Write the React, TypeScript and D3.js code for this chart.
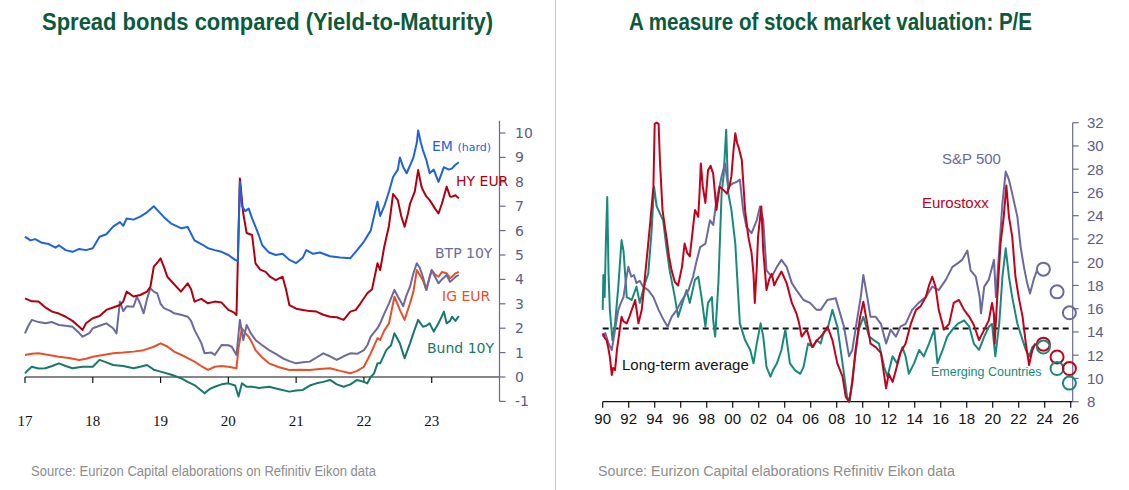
import React from "react";
import * as d3 from "d3";

type P = [number, number];

// ---------- Left chart data (year, yield %) ----------
const leftYearTicks = [2017, 2018, 2019, 2020, 2021, 2022, 2023];
const leftYearLabels = ["17", "18", "19", "20", "21", "22", "23"];
const leftValueTicks = [-1, 0, 1, 2, 3, 4, 5, 6, 7, 8, 9, 10];

const emHard: P[] = [[2017.0,5.75],[2017.08,5.6],[2017.15,5.65],[2017.25,5.5],[2017.35,5.45],[2017.45,5.3],[2017.5,5.4],[2017.6,5.2],[2017.7,5.13],[2017.8,5.25],[2017.9,5.2],[2018.0,5.28],[2018.1,5.75],[2018.2,5.85],[2018.3,6.16],[2018.4,6.35],[2018.45,6.2],[2018.5,6.5],[2018.6,6.45],[2018.7,6.57],[2018.8,6.75],[2018.9,7.0],[2018.95,6.85],[2019.05,6.55],[2019.15,6.3],[2019.3,6.1],[2019.4,6.15],[2019.5,5.6],[2019.6,5.45],[2019.7,5.28],[2019.8,5.2],[2019.9,5.13],[2020.0,5.0],[2020.1,4.8],[2020.14,4.75],[2020.17,8.0],[2020.2,7.0],[2020.25,6.8],[2020.3,6.9],[2020.35,6.5],[2020.4,6.16],[2020.45,5.8],[2020.5,5.4],[2020.6,5.1],[2020.7,5.0],[2020.8,5.05],[2020.9,4.8],[2021.0,4.67],[2021.1,4.9],[2021.15,5.2],[2021.25,5.05],[2021.35,5.1],[2021.5,4.95],[2021.65,4.9],[2021.8,4.87],[2021.9,5.2],[2022.0,5.55],[2022.1,6.0],[2022.15,6.6],[2022.2,7.18],[2022.24,6.6],[2022.3,7.0],[2022.37,7.6],[2022.43,8.2],[2022.5,8.5],[2022.53,9.0],[2022.58,8.6],[2022.63,8.35],[2022.7,8.8],[2022.73,9.0],[2022.78,9.6],[2022.8,10.1],[2022.84,9.6],[2022.87,9.3],[2022.92,8.9],[2022.97,8.35],[2023.03,8.5],[2023.1,8.0],[2023.18,8.6],[2023.25,8.5],[2023.3,8.55],[2023.35,8.7],[2023.4,8.8]];

const hyEur: P[] = [[2017.0,3.22],[2017.1,3.1],[2017.2,3.09],[2017.3,2.85],[2017.4,2.68],[2017.5,2.6],[2017.6,2.47],[2017.7,2.3],[2017.8,2.06],[2017.85,1.93],[2017.9,2.2],[2018.0,2.41],[2018.1,2.5],[2018.2,2.75],[2018.3,2.85],[2018.4,2.95],[2018.45,3.1],[2018.5,3.5],[2018.6,3.3],[2018.7,3.36],[2018.8,3.5],[2018.85,3.7],[2018.9,4.52],[2018.97,4.75],[2019.0,4.86],[2019.05,4.5],[2019.1,4.11],[2019.2,3.8],[2019.3,3.5],[2019.4,3.84],[2019.45,3.6],[2019.5,3.09],[2019.6,3.2],[2019.7,3.02],[2019.8,3.09],[2019.9,3.05],[2020.0,2.75],[2020.08,2.65],[2020.12,2.54],[2020.17,8.14],[2020.22,6.7],[2020.27,5.9],[2020.35,5.82],[2020.4,4.66],[2020.47,4.4],[2020.55,4.31],[2020.62,4.1],[2020.7,3.97],[2020.8,4.11],[2020.85,3.6],[2020.9,2.95],[2021.0,2.8],[2021.1,2.75],[2021.2,2.7],[2021.3,2.68],[2021.4,2.55],[2021.5,2.47],[2021.6,2.45],[2021.7,2.34],[2021.8,2.68],[2021.88,2.75],[2021.95,3.02],[2022.05,3.43],[2022.12,3.6],[2022.2,4.66],[2022.24,4.38],[2022.3,5.34],[2022.37,6.2],[2022.43,7.5],[2022.5,7.25],[2022.55,6.6],[2022.6,6.16],[2022.65,6.7],[2022.68,7.1],[2022.75,7.6],[2022.8,8.48],[2022.85,7.8],[2022.87,7.66],[2022.92,7.4],[2022.97,7.25],[2023.05,6.9],[2023.1,6.7],[2023.15,7.1],[2023.22,7.8],[2023.27,7.4],[2023.3,7.39],[2023.35,7.45],[2023.4,7.32]];

const btp10y: P[] = [[2017.0,1.79],[2017.05,2.1],[2017.1,2.34],[2017.2,2.25],[2017.3,2.2],[2017.4,2.25],[2017.5,2.13],[2017.6,2.1],[2017.7,2.06],[2017.8,1.8],[2017.85,1.65],[2017.95,1.8],[2018.0,2.0],[2018.1,2.1],[2018.2,2.2],[2018.3,2.0],[2018.35,1.79],[2018.4,3.09],[2018.45,2.7],[2018.5,2.9],[2018.6,2.88],[2018.65,3.29],[2018.7,3.0],[2018.75,2.61],[2018.8,3.2],[2018.85,3.64],[2018.9,3.5],[2018.95,3.43],[2019.0,3.0],[2019.05,2.82],[2019.15,2.7],[2019.2,2.61],[2019.3,2.55],[2019.4,2.47],[2019.45,2.3],[2019.5,1.93],[2019.6,1.4],[2019.65,0.97],[2019.75,1.0],[2019.8,0.9],[2019.9,1.31],[2020.0,1.3],[2020.05,1.24],[2020.12,0.9],[2020.17,2.34],[2020.22,1.52],[2020.27,2.13],[2020.33,1.8],[2020.4,1.52],[2020.5,1.3],[2020.6,1.1],[2020.7,0.95],[2020.8,0.77],[2020.9,0.65],[2021.0,0.56],[2021.1,0.6],[2021.2,0.63],[2021.3,0.8],[2021.4,0.97],[2021.5,0.85],[2021.6,0.7],[2021.7,0.85],[2021.8,0.97],[2021.9,0.95],[2022.0,1.1],[2022.05,1.3],[2022.1,1.65],[2022.2,2.0],[2022.24,2.2],[2022.3,2.6],[2022.37,3.02],[2022.45,3.57],[2022.5,3.3],[2022.53,3.16],[2022.58,2.9],[2022.62,3.29],[2022.68,3.7],[2022.73,4.25],[2022.78,4.66],[2022.82,4.5],[2022.87,4.11],[2022.92,3.57],[2022.96,4.0],[2023.0,4.38],[2023.05,4.1],[2023.1,3.84],[2023.15,4.0],[2023.22,4.18],[2023.27,3.9],[2023.3,3.97],[2023.35,4.1],[2023.4,4.18]];

const igEur: P[] = [[2017.0,0.9],[2017.1,0.95],[2017.2,0.97],[2017.35,0.9],[2017.5,0.83],[2017.65,0.78],[2017.8,0.7],[2017.9,0.75],[2018.0,0.83],[2018.15,0.9],[2018.3,0.97],[2018.45,1.0],[2018.6,1.04],[2018.75,1.1],[2018.9,1.24],[2019.0,1.38],[2019.1,1.25],[2019.2,1.04],[2019.35,0.85],[2019.5,0.63],[2019.6,0.45],[2019.7,0.29],[2019.8,0.42],[2019.9,0.45],[2020.0,0.42],[2020.12,0.36],[2020.15,1.2],[2020.2,2.0],[2020.25,1.8],[2020.3,1.65],[2020.35,1.4],[2020.4,1.1],[2020.5,0.8],[2020.6,0.56],[2020.75,0.4],[2020.9,0.29],[2021.05,0.3],[2021.2,0.29],[2021.35,0.33],[2021.5,0.36],[2021.65,0.25],[2021.8,0.15],[2021.9,0.25],[2022.0,0.42],[2022.1,0.97],[2022.2,1.59],[2022.24,1.52],[2022.3,1.9],[2022.37,2.2],[2022.45,3.29],[2022.53,2.75],[2022.6,2.34],[2022.68,3.02],[2022.73,3.5],[2022.78,4.38],[2022.82,4.2],[2022.87,3.97],[2022.92,3.57],[2022.97,4.1],[2023.0,4.38],[2023.05,4.2],[2023.1,4.11],[2023.15,4.3],[2023.22,4.25],[2023.27,4.05],[2023.3,4.11],[2023.35,4.25],[2023.4,4.31]];

const bund10y: P[] = [[2017.0,0.15],[2017.05,0.3],[2017.1,0.42],[2017.2,0.35],[2017.3,0.36],[2017.4,0.45],[2017.5,0.56],[2017.6,0.45],[2017.7,0.36],[2017.85,0.42],[2018.0,0.42],[2018.1,0.7],[2018.2,0.6],[2018.3,0.49],[2018.45,0.45],[2018.6,0.36],[2018.7,0.42],[2018.8,0.49],[2018.9,0.3],[2019.0,0.22],[2019.15,0.1],[2019.3,-0.05],[2019.4,-0.2],[2019.5,-0.33],[2019.6,-0.55],[2019.65,-0.67],[2019.72,-0.5],[2019.8,-0.4],[2019.9,-0.3],[2020.0,-0.26],[2020.1,-0.35],[2020.15,-0.8],[2020.2,-0.26],[2020.27,-0.4],[2020.35,-0.4],[2020.45,-0.45],[2020.6,-0.4],[2020.75,-0.5],[2020.9,-0.6],[2021.0,-0.55],[2021.1,-0.53],[2021.2,-0.35],[2021.3,-0.26],[2021.4,-0.2],[2021.5,-0.12],[2021.6,-0.3],[2021.7,-0.4],[2021.8,-0.3],[2021.9,-0.12],[2022.0,-0.2],[2022.05,-0.26],[2022.1,0.0],[2022.15,0.15],[2022.2,0.56],[2022.24,0.56],[2022.33,1.1],[2022.4,1.3],[2022.45,1.79],[2022.53,1.38],[2022.6,0.77],[2022.68,1.38],[2022.73,1.8],[2022.8,2.34],[2022.87,2.06],[2022.92,2.1],[2022.97,2.2],[2023.03,1.86],[2023.1,2.2],[2023.18,2.68],[2023.22,2.2],[2023.27,2.3],[2023.3,2.47],[2023.35,2.3],[2023.4,2.5]];

// ---------- Right chart data (year, P/E) ----------
const rightYearTicks = [1990,1992,1994,1996,1998,2000,2002,2004,2006,2008,2010,2012,2014,2016,2018,2020,2022,2024,2026];
const rightYearLabels = ["90","92","94","96","98","00","02","04","06","08","10","12","14","16","18","20","22","24","26"];
const rightValueTicks = [8,10,12,14,16,18,20,22,24,26,28,30,32];
const longTermAverage = 14.3;

const eurostoxx: P[] = [[1990.0,13.88],[1990.15,13.5],[1990.3,13.3],[1990.45,12.5],[1990.55,11.87],[1990.7,10.3],[1990.8,10.9],[1990.95,10.72],[1991.1,12.5],[1991.2,13.3],[1991.35,14.5],[1991.45,15.3],[1991.6,14.9],[1991.85,14.74],[1992.05,15.3],[1992.23,15.89],[1992.5,16.75],[1992.75,14.74],[1993.0,15.89],[1993.15,17.5],[1993.25,18.75],[1993.45,21.0],[1993.65,23.34],[1993.9,26.5],[1994.0,31.9],[1994.15,32.0],[1994.3,31.9],[1994.4,28.8],[1994.6,24.5],[1994.75,23.3],[1994.9,22.2],[1995.1,20.5],[1995.3,19.3],[1995.55,18.3],[1995.8,18.0],[1996.1,19.6],[1996.3,21.6],[1996.5,20.8],[1996.7,20.5],[1996.9,22.5],[1997.1,24.5],[1997.35,23.9],[1997.45,26.0],[1997.55,28.5],[1997.7,26.5],[1997.9,25.1],[1998.1,27.9],[1998.3,28.3],[1998.5,27.6],[1998.75,24.5],[1999.0,26.5],[1999.3,26.2],[1999.55,25.9],[1999.75,26.5],[1999.9,27.4],[2000.05,29.5],[2000.2,31.1],[2000.35,30.2],[2000.45,29.9],[2000.7,28.8],[2000.95,24.5],[2001.2,22.2],[2001.45,20.8],[2001.6,19.0],[2001.7,16.5],[2001.85,19.5],[2001.95,22.2],[2002.2,24.8],[2002.35,21.0],[2002.6,17.6],[2002.8,18.5],[2003.0,19.0],[2003.2,18.0],[2003.4,18.5],[2003.75,19.2],[2004.15,18.2],[2004.55,16.5],[2004.9,15.6],[2005.1,14.8],[2005.3,13.6],[2005.7,14.2],[2006.1,12.7],[2006.5,13.3],[2006.77,13.6],[2007.0,13.9],[2007.3,14.45],[2007.67,13.3],[2008.05,11.3],[2008.45,10.15],[2008.7,8.4],[2008.95,8.0],[2009.2,9.6],[2009.45,12.45],[2009.8,15.3],[2010.05,16.6],[2010.35,14.7],[2010.6,13.0],[2011.0,12.7],[2011.4,12.2],[2011.8,9.15],[2012.0,10.4],[2012.3,9.7],[2012.55,10.7],[2012.9,12.2],[2013.3,13.0],[2013.7,14.7],[2014.1,15.9],[2014.45,16.2],[2014.85,17.0],[2015.1,18.0],[2015.35,18.75],[2015.6,17.9],[2015.85,15.9],[2016.25,14.2],[2016.65,14.7],[2017.0,16.5],[2017.4,16.75],[2017.8,15.9],[2018.2,15.3],[2018.55,14.6],[2018.95,13.3],[2019.35,14.2],[2019.7,15.0],[2019.95,16.5],[2020.1,15.5],[2020.15,13.0],[2020.35,17.0],[2020.6,21.6],[2020.85,23.9],[2021.05,26.6],[2021.25,23.9],[2021.5,22.2],[2021.75,18.75],[2022.0,17.0],[2022.3,15.3],[2022.55,13.0],[2022.8,11.15],[2023.05,12.45],[2023.3,13.0]];

const sp500: P[] = [[1990.0,13.6],[1990.2,13.9],[1990.45,13.0],[1990.7,12.45],[1990.95,14.2],[1991.2,15.9],[1991.4,16.5],[1991.6,17.0],[1991.8,18.5],[1991.97,19.6],[1992.2,18.75],[1992.4,18.9],[1992.6,18.2],[1992.85,18.4],[1993.1,17.9],[1993.5,17.6],[1993.9,17.0],[1994.3,15.9],[1994.7,15.0],[1995.0,14.45],[1995.3,15.3],[1995.7,15.9],[1996.1,16.75],[1996.6,17.6],[1996.95,18.75],[1997.2,20.0],[1997.5,21.3],[1997.9,21.6],[1998.25,23.6],[1998.5,23.2],[1998.75,25.3],[1999.15,27.4],[1999.4,28.5],[1999.65,26.5],[2000.05,26.8],[2000.3,26.9],[2000.55,27.1],[2000.8,24.5],[2001.05,23.05],[2001.45,22.5],[2001.85,23.6],[2002.1,24.8],[2002.35,23.6],[2002.6,19.3],[2003.0,18.75],[2003.4,19.6],[2003.75,20.2],[2004.15,19.6],[2004.55,18.2],[2004.9,17.6],[2005.45,16.75],[2005.95,16.5],[2006.45,15.9],[2006.77,15.9],[2007.28,16.75],[2007.92,16.9],[2008.18,15.9],[2008.56,14.45],[2008.95,11.9],[2009.2,12.45],[2009.6,15.3],[2009.85,17.0],[2010.05,18.9],[2010.35,17.0],[2010.6,15.3],[2011.0,15.3],[2011.4,14.7],[2011.8,13.0],[2012.15,14.2],[2012.55,13.6],[2012.9,14.45],[2013.3,14.7],[2013.8,15.9],[2014.3,16.5],[2014.85,17.0],[2015.35,17.9],[2015.85,17.6],[2016.4,18.5],[2016.9,19.6],[2017.3,19.9],[2017.65,20.2],[2018.05,21.0],[2018.3,19.3],[2018.7,18.75],[2019.0,17.0],[2019.1,15.6],[2019.35,17.9],[2019.7,18.5],[2020.1,20.2],[2020.25,17.0],[2020.5,21.0],[2020.75,25.1],[2021.0,27.8],[2021.25,27.1],[2021.5,25.9],[2021.9,23.9],[2022.15,21.3],[2022.4,19.6],[2022.65,18.2],[2022.87,17.3],[2023.15,18.5],[2023.4,19.3]];

const emerging: P[] = [[1990.0,15.9],[1990.05,18.9],[1990.15,17.0],[1990.25,22.0],[1990.35,25.6],[1990.45,19.0],[1990.55,15.9],[1990.75,13.3],[1990.95,14.7],[1991.2,17.9],[1991.45,21.9],[1991.6,21.0],[1991.85,17.0],[1992.23,16.75],[1992.6,17.9],[1992.85,16.5],[1993.25,18.2],[1993.5,19.0],[1993.75,22.5],[1993.95,26.5],[1994.15,24.8],[1994.4,24.2],[1994.65,23.6],[1994.9,21.3],[1995.15,19.3],[1995.55,17.0],[1995.8,15.3],[1996.2,16.75],[1996.45,17.6],[1996.7,16.5],[1997.1,18.5],[1997.35,18.75],[1997.6,17.0],[1997.9,14.45],[1998.1,16.5],[1998.4,17.0],[1998.5,15.0],[1998.65,13.6],[1998.9,18.2],[1999.15,26.0],[1999.3,27.4],[1999.5,31.4],[1999.65,26.0],[1999.9,24.5],[2000.2,21.6],[2000.3,19.6],[2000.55,14.74],[2000.95,13.3],[2001.35,12.45],[2001.6,11.3],[2001.85,13.0],[2002.15,14.74],[2002.35,13.6],[2002.6,11.0],[2002.9,10.15],[2003.1,10.7],[2003.4,11.3],[2003.75,12.45],[2004.05,14.2],[2004.4,11.3],[2004.8,10.7],[2005.2,10.4],[2005.45,11.0],[2005.8,13.0],[2006.2,12.7],[2006.45,13.3],[2006.77,13.0],[2007.0,14.0],[2007.28,14.2],[2007.67,15.9],[2008.05,14.45],[2008.45,11.3],[2008.8,8.4],[2009.0,8.0],[2009.35,11.3],[2009.7,14.2],[2010.05,15.3],[2010.5,13.6],[2010.85,13.3],[2011.25,13.0],[2011.65,11.0],[2011.9,10.15],[2012.3,11.9],[2012.65,11.3],[2013.05,12.7],[2013.3,11.9],[2013.55,10.4],[2013.95,11.3],[2014.35,12.45],[2014.7,11.9],[2015.1,13.0],[2015.5,14.2],[2015.75,11.3],[2016.15,12.45],[2016.5,13.6],[2016.9,14.2],[2017.3,14.7],[2017.8,15.0],[2018.2,14.45],[2018.55,13.0],[2018.95,12.45],[2019.35,13.6],[2019.7,14.45],[2019.95,14.7],[2020.2,11.9],[2020.5,14.7],[2020.75,18.75],[2021.0,21.2],[2021.25,18.75],[2021.5,17.0],[2021.9,14.7],[2022.3,13.3],[2022.55,12.45],[2022.8,11.9],[2023.05,12.7],[2023.3,13.0]];

const forecastYears = [2023.9, 2024.95, 2025.9];
const spForecast = [19.4, 17.45, 15.65];
const euroForecast = [12.95, 11.85, 10.85];
const emForecast = [12.7, 10.85, 9.6];

// ---------- styles ----------
const C = {
  title: "#0b5a3c",
  em: "#1f62dd",
  hy: "#b0000f",
  btp: "#6b6a9c",
  ig: "#e8502a",
  bund: "#16786b",
  axisL: "#6a6a8c",
  tickTxt: "#5d5d82",
  sp: "#6a69a0",
  euro: "#c4001a",
  emg: "#178a7b",
  source: "#8c8c8c",
};

const lx = d3.scaleLinear().domain([2017, 2024]).range([25, 499.5]);
const ly = d3.scaleLinear().domain([-1, 10.5]).range([401.4, 120.8]);
const rx = d3.scaleLinear().domain([1990, 2026]).range([602.7, 1070.7]);
const ry = d3.scaleLinear().domain([8, 32]).range([401.7, 122.7]);

const leftLine = d3.line<P>().x((d) => lx(d[0])).y((d) => ly(d[1]));
const rightLine = d3.line<P>().x((d) => rx(d[0])).y((d) => ry(d[1]));

const sans = "'Liberation Sans', Arial, sans-serif";
const dejavu = "'DejaVu Sans', Verdana, sans-serif";

export default function App() {
  const lAxisX = lx(2024);
  const rAxisX = rx(2026) + 2;
  return (
    <svg width={1129} height={490} style={{ position: "absolute", left: 0, top: 0, background: "#fff" }}>
      <rect x={0} y={0} width={1129} height={490} fill="#fff" />
      {/* divider */}
      <line x1={555.5} x2={555.5} y1={0} y2={490} stroke="#c9c9c9" strokeWidth={1} />

      {/* titles */}
      <text x={42} y={30} fontFamily="'Liberation Sans Narrow', 'Liberation Sans', Arial" fontWeight="bold" fontSize={23} fill={C.title} textLength={451} lengthAdjust="spacingAndGlyphs">Spread bonds compared (Yield-to-Maturity)</text>
      <text x={629} y={30} fontFamily="'Liberation Sans Narrow', 'Liberation Sans', Arial" fontWeight="bold" fontSize={23} fill={C.title} textLength={403} lengthAdjust="spacingAndGlyphs">A measure of stock market valuation: P/E</text>

      {/* ===== Left chart ===== */}
      <line x1={lx(2017)} x2={lAxisX} y1={ly(0)} y2={ly(0)} stroke="#111" strokeWidth={1.2} />
      {leftYearTicks.map((t, i) => (
        <g key={t}>
          <line x1={lx(t)} x2={lx(t)} y1={ly(0)} y2={ly(0) + 6} stroke="#111" strokeWidth={1.2} />
          <text x={lx(t)} y={426} textAnchor="middle" fontFamily="'Liberation Serif', 'Times New Roman', serif" fontSize={15} fill="#111">{leftYearLabels[i]}</text>
        </g>
      ))}
      <line x1={lAxisX} x2={lAxisX} y1={ly(10.5)} y2={ly(-1)} stroke={C.axisL} strokeWidth={1.2} />
      {leftValueTicks.map((v) => (
        <g key={v}>
          <line x1={lAxisX} x2={lAxisX + 6} y1={ly(v)} y2={ly(v)} stroke={C.axisL} strokeWidth={1.2} />
          <text x={515} y={ly(v) + 5} fontFamily={dejavu} fontSize={14} fill={C.tickTxt}>{v}</text>
        </g>
      ))}
      {[
        [bund10y, C.bund],
        [igEur, C.ig],
        [btp10y, C.btp],
        [hyEur, C.hy],
        [emHard, C.em],
      ].map(([d, c], i) => (
        <path key={i} d={leftLine(d as P[]) || ""} fill="none" stroke={c as string} strokeWidth={2} strokeLinejoin="round" />
      ))}
      <text x={432} y={151} fontFamily={dejavu} fontSize={14} fill={C.em}>EM <tspan fontSize={11}>(hard)</tspan></text>
      <text x={456} y={186} fontFamily={dejavu} fontSize={14} fill={C.hy}>HY EUR</text>
      <text x={435} y={258} fontFamily={dejavu} fontSize={14} fill={C.btp}>BTP 10Y</text>
      <text x={442} y={301} fontFamily={dejavu} fontSize={14} fill={C.ig}>IG EUR</text>
      <text x={427} y={353} fontFamily={dejavu} fontSize={14} fill={C.bund}>Bund 10Y</text>

      <text x={31} y={476} fontFamily={sans} fontSize={14} fill={C.source} textLength={345} lengthAdjust="spacingAndGlyphs">Source: Eurizon Capital elaborations on Refinitiv Eikon data</text>

      {/* ===== Right chart ===== */}
      <line x1={rx(1990)} x2={rAxisX} y1={ry(8)} y2={ry(8)} stroke="#111" strokeWidth={1.2} />
      {rightYearTicks.map((t, i) => (
        <g key={t}>
          <line x1={rx(t)} x2={rx(t)} y1={ry(8)} y2={ry(8) + 6} stroke="#111" strokeWidth={1.2} />
          <text x={rx(t)} y={424} textAnchor="middle" fontFamily={sans} fontSize={15} fill="#111">{rightYearLabels[i]}</text>
        </g>
      ))}
      <line x1={rAxisX} x2={rAxisX} y1={ry(32)} y2={ry(8)} stroke={C.axisL} strokeWidth={1.2} />
      {rightValueTicks.map((v) => (
        <g key={v}>
          <line x1={rAxisX} x2={rAxisX + 6} y1={ry(v)} y2={ry(v)} stroke={C.axisL} strokeWidth={1.2} />
          <text x={1087} y={ry(v) + 5.5} fontFamily={sans} fontSize={15} fill={C.tickTxt}>{v}</text>
        </g>
      ))}
      <line x1={rx(1990)} x2={rx(2025.85)} y1={ry(longTermAverage)} y2={ry(longTermAverage)} stroke="#111" strokeWidth={2} strokeDasharray="6,4" />
      {[
        [emerging, C.emg],
        [sp500, C.sp],
        [eurostoxx, C.euro],
      ].map(([d, c], i) => (
        <path key={i} d={rightLine(d as P[]) || ""} fill="none" stroke={c as string} strokeWidth={2} strokeLinejoin="round" />
      ))}
      {forecastYears.map((yr, i) => (
        <g key={yr}>
          <circle cx={rx(yr)} cy={ry(spForecast[i])} r={6.5} fill="none" stroke={C.sp} strokeWidth={2} />
          <circle cx={rx(yr)} cy={ry(euroForecast[i])} r={6.5} fill="none" stroke={C.euro} strokeWidth={2} />
          <circle cx={rx(yr)} cy={ry(emForecast[i])} r={6.5} fill="none" stroke={C.emg} strokeWidth={2} />
        </g>
      ))}
      <text x={942} y={164} fontFamily={sans} fontSize={15} fill={C.sp}>S&amp;P 500</text>
      <text x={922} y={208} fontFamily={sans} fontSize={15} fill={C.euro}>Eurostoxx</text>
      <text x={931} y={376} fontFamily={sans} fontSize={12.5} fill={C.emg}>Emerging Countries</text>
      <text x={622} y={370} fontFamily={sans} fontSize={15} fill="#111">Long-term average</text>

      <text x={598} y={476} fontFamily={sans} fontSize={14} fill={C.source} textLength={357} lengthAdjust="spacingAndGlyphs">Source: Eurizon Capital elaborations Refinitiv  Eikon data</text>
    </svg>
  );
}
